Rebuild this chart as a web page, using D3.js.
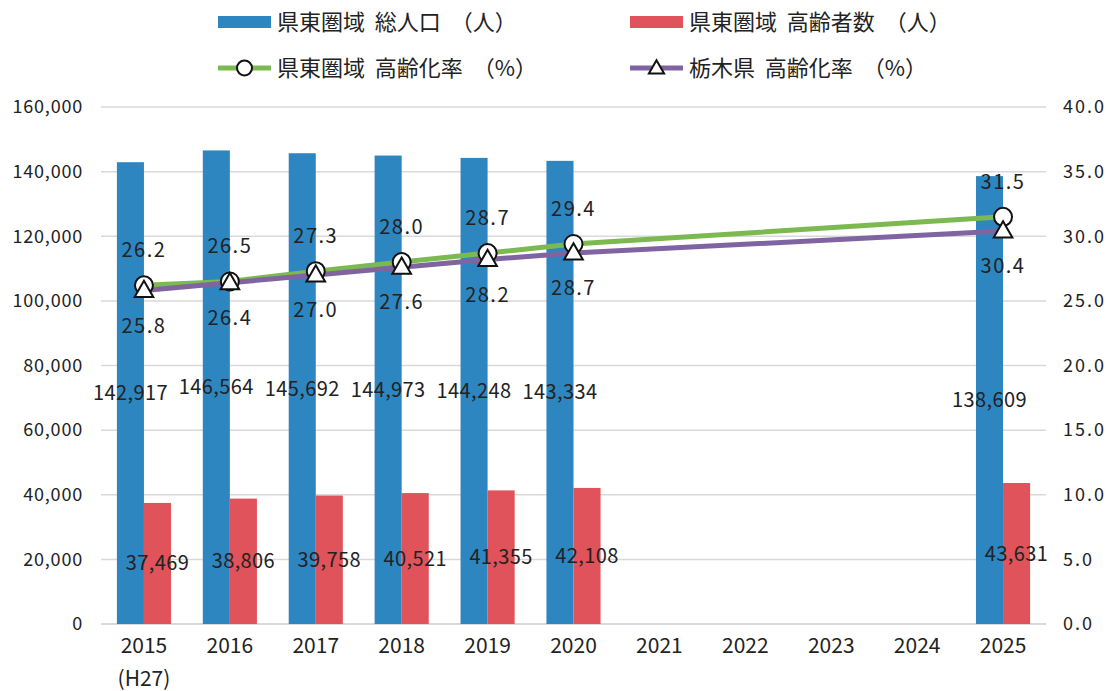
<!DOCTYPE html>
<html>
<head>
<meta charset="utf-8">
<script src="https://cdn.jsdelivr.net/npm/d3@7"></script>
<style>
body { margin: 0; background: #fff; }
text { font-family: "Noto Sans CJK JP", "Noto Sans", sans-serif; fill: #222; }
</style>
</head>
<body>
<div id="chart"></div>
<script>

var years = ["2015", "2016", "2017", "2018", "2019", "2020", "2021", "2022", "2023", "2024", "2025"];
var subLabels = {"2015": "(H27)"};

// 県東圏域 総人口 / 高齢者数 (null = no data)
var totalPop = [142917, 146564, 145692, 144973, 144248, 143334, null, null, null, null, 138609];
var elderPop = [37469, 38806, 39758, 40521, 41355, 42108, null, null, null, null, 43631];

// 高齢化率 (%)
var rateEast = [26.2, 26.5, 27.3, 28.0, 28.7, 29.4, null, null, null, null, 31.5];
var rateTochigi = [25.8, 26.4, 27.0, 27.6, 28.2, 28.7, null, null, null, null, 30.4];

var leftTicks = [0, 20000, 40000, 60000, 80000, 100000, 120000, 140000, 160000];
var rightTicks = [0, 5, 10, 15, 20, 25, 30, 35, 40];

var colBlue = "#2e86c1", colRed = "#e0535a", colGreen = "#7cb950", colPurple = "#8064a2";

var W = 1110, H = 691;
var margin = {top: 107, right: 64, bottom: 67, left: 101};
var width = W - margin.left - margin.right,
    height = H - margin.top - margin.bottom;

var svg = d3.select("#chart").append("svg")
    .attr("width", W)
    .attr("height", H);

var g = svg.append("g")
    .attr("transform", "translate(" + margin.left + "," + margin.top + ")");

var x = d3.scaleBand().domain(years).range([0, width]).padding(0);
var bw = x.bandwidth();
var xSub = d3.scaleBand().domain(["total", "elder"]).range([bw * 0.185, bw * 0.815]);

var yl = d3.scaleLinear().domain([0, 160000]).range([height, 0]);
var yr = d3.scaleLinear().domain([0, 40]).range([height, 0]);

// grid
g.append("g").selectAll("line")
    .data(leftTicks)
    .join("line")
    .attr("x1", 0).attr("x2", width)
    .attr("y1", function(d) { return yl(d); })
    .attr("y2", function(d) { return yl(d); })
    .attr("stroke", "#d9d9d9")
    .attr("stroke-width", function(d) { return d == 0 ? 2 : 1.5; });

// left axis
var axL = g.append("g")
    .call(d3.axisLeft(yl).tickValues(leftTicks).tickSize(0).tickPadding(18).tickFormat(d3.format(",")));
axL.select(".domain").remove();
axL.selectAll("text")
    .style("font-size", "18px")
    .style("letter-spacing", "0.8px")
    .attr("fill", "#222");

// right axis
var axR = g.append("g")
    .attr("transform", "translate(" + width + ",0)")
    .call(d3.axisRight(yr).tickValues(rightTicks).tickSize(0).tickPadding(17).tickFormat(d3.format(".1f")));
axR.select(".domain").remove();
axR.selectAll("text")
    .style("font-size", "18px")
    .style("letter-spacing", "2px")
    .attr("fill", "#222");

// bottom axis
var axB = g.append("g")
    .attr("transform", "translate(0," + height + ")")
    .call(d3.axisBottom(x).tickSize(0).tickPadding(14));
axB.select(".domain").remove();
axB.selectAll("text")
    .style("font-size", "21px")
    .attr("fill", "#222");
axB.selectAll(".tick").filter(function(d) { return subLabels[d]; })
    .append("text")
    .attr("y", 62)
    .attr("text-anchor", "middle")
    .style("font-size", "21px")
    .text(function(d) { return subLabels[d]; });

// bars
var rows = years.map(function(y, i) {
    return {year: y, total: totalPop[i], elder: elderPop[i], east: rateEast[i], tochigi: rateTochigi[i]};
});
var barRows = rows.filter(function(d) { return d.total != null; });

var bars = g.append("g");
bars.selectAll(".bTotal")
    .data(barRows)
    .join("rect")
    .attr("x", function(d) { return x(d.year) + xSub("total"); })
    .attr("width", xSub.bandwidth())
    .attr("y", function(d) { return yl(d.total); })
    .attr("height", function(d) { return height - yl(d.total); })
    .attr("fill", colBlue);
bars.selectAll(".bElder")
    .data(barRows)
    .join("rect")
    .attr("x", function(d) { return x(d.year) + xSub("elder"); })
    .attr("width", xSub.bandwidth())
    .attr("y", function(d) { return yl(d.elder); })
    .attr("height", function(d) { return height - yl(d.elder); })
    .attr("fill", colRed);

// bar labels
var fmt = d3.format(",");
bars.selectAll(".lTotal")
    .data(barRows)
    .join("text")
    .attr("x", function(d) { return x(d.year) + xSub("total") + xSub.bandwidth() / 2; })
    .attr("y", function(d) { return (yl(d.total) + height) / 2 + 7; })
    .attr("text-anchor", "middle")
    .style("font-size", "20px")
    .style("letter-spacing", "0.4px")
    .text(function(d) { return fmt(d.total); });
bars.selectAll(".lElder")
    .data(barRows)
    .join("text")
    .attr("x", function(d) { return x(d.year) + xSub("elder") + xSub.bandwidth() / 2; })
    .attr("y", function(d) { return (yl(d.elder) + height) / 2 + 7; })
    .attr("text-anchor", "middle")
    .style("font-size", "20px")
    .style("letter-spacing", "0.4px")
    .text(function(d) { return fmt(d.elder); });

// lines
var cx = function(d) { return x(d.year) + bw / 2; };
var lineRows = rows.filter(function(d) { return d.east != null; });

var lineEast = d3.line().x(cx).y(function(d) { return yr(d.east); });
var lineToch = d3.line().x(cx).y(function(d) { return yr(d.tochigi); });

g.append("path").datum(lineRows)
    .attr("d", lineEast)
    .attr("fill", "none").attr("stroke", colGreen).attr("stroke-width", 5);
g.append("path").datum(lineRows)
    .attr("d", lineToch)
    .attr("fill", "none").attr("stroke", colPurple).attr("stroke-width", 5);

g.append("g").selectAll("circle")
    .data(lineRows)
    .join("circle")
    .attr("cx", cx)
    .attr("cy", function(d) { return yr(d.east); })
    .attr("r", 9)
    .attr("fill", "#fff").attr("stroke", "#111").attr("stroke-width", 2);

var tri = d3.symbol().type(d3.symbolTriangle).size(150);
g.append("g").selectAll("path")
    .data(lineRows)
    .join("path")
    .attr("d", tri)
    .attr("transform", function(d) { return "translate(" + cx(d) + "," + (yr(d.tochigi) + 1) + ")"; })
    .attr("fill", "#fff").attr("stroke", "#111").attr("stroke-width", 2)
    .attr("stroke-linejoin", "miter");

// rate labels
g.append("g").selectAll("text")
    .data(lineRows)
    .join("text")
    .attr("x", cx)
    .attr("y", function(d) { return yr(d.east) - 35 + 7; })
    .attr("text-anchor", "middle")
    .style("font-size", "20px")
    .style("letter-spacing", "1.5px")
    .text(function(d) { return d.east.toFixed(1); });
g.append("g").selectAll("text")
    .data(lineRows)
    .join("text")
    .attr("x", cx)
    .attr("y", function(d) { return yr(d.tochigi) + 35 + 7; })
    .attr("text-anchor", "middle")
    .style("font-size", "20px")
    .style("letter-spacing", "1.5px")
    .text(function(d) { return d.tochigi.toFixed(1); });

// legend
var legend = [
    {label: "県東圏域  総人口  （人）", type: "bar", color: colBlue, x: 218, y: 22},
    {label: "県東圏域  高齢者数  （人）", type: "bar", color: colRed, x: 630, y: 22},
    {label: "県東圏域  高齢化率  （%）", type: "circle", color: colGreen, x: 218, y: 68},
    {label: "栃木県  高齢化率  （%）", type: "tri", color: colPurple, x: 630, y: 68}
];
var lg = svg.append("g").selectAll("g")
    .data(legend)
    .join("g")
    .attr("transform", function(d) { return "translate(" + d.x + "," + d.y + ")"; });
lg.filter(function(d) { return d.type == "bar"; })
    .append("rect")
    .attr("x", 0).attr("y", -6).attr("width", 53).attr("height", 12)
    .attr("fill", function(d) { return d.color; });
lg.filter(function(d) { return d.type != "bar"; })
    .append("line")
    .attr("x1", 0).attr("x2", 53).attr("y1", 0).attr("y2", 0)
    .attr("stroke", function(d) { return d.color; }).attr("stroke-width", 5);
lg.filter(function(d) { return d.type == "circle"; })
    .append("circle")
    .attr("cx", 26.5).attr("cy", 0).attr("r", 7.5)
    .attr("fill", "#fff").attr("stroke", "#111").attr("stroke-width", 2);
lg.filter(function(d) { return d.type == "tri"; })
    .append("path")
    .attr("d", d3.symbol().type(d3.symbolTriangle).size(100))
    .attr("transform", "translate(26.5,1)")
    .attr("fill", "#fff").attr("stroke", "#111").attr("stroke-width", 2);
lg.append("text")
    .attr("x", 59).attr("y", 8)
    .style("font-size", "22px")
    .style("white-space", "pre")
    .text(function(d) { return d.label; });

</script>
</body>
</html>
